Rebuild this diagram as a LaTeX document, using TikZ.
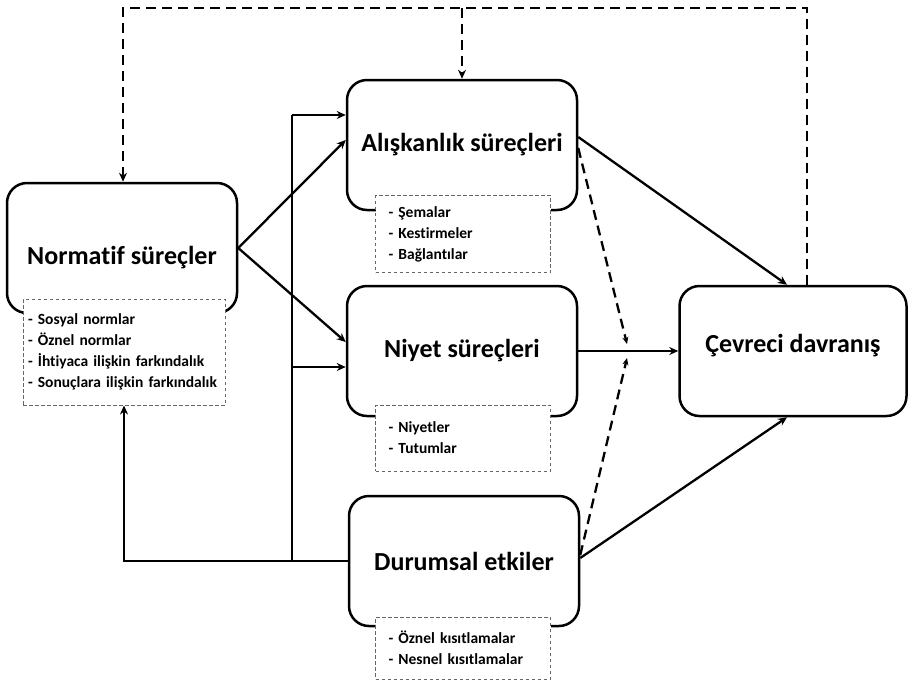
\documentclass[tikz,border=0pt]{standalone}
\usepackage{fontspec}
\setmainfont[Ligatures=NoCommon]{Carlito}
\usetikzlibrary{arrows.meta}
\usetikzlibrary{positioning}
\usetikzlibrary{calc}
\newcommand{\pnode}[3]{\node(#1)[proc] at (#2){#3}}

\begin{document}
\begin{tikzpicture}[
        x=1pt, y=-1pt,
        >={Stealth[length=9pt,width=8pt]},
        every node/.style={font=\bfseries},
        proc/.style={rectangle,minimum width=230pt,minimum height=130pt,
                     rounded corners=20pt,line width=2.5pt,draw=black,fill=white,
                     font=\fontsize{26}{30}\selectfont\bfseries},
        sublist/.style={rectangle,draw=black!60,dash pattern=on 3.5pt off 2.5pt,
                        line width=1pt,fill=white,align=left,
                        font=\fontsize{15.5}{21}\selectfont\bfseries},
        flow/.style={line width=2.3pt,->},
        back/.style={line width=2.3pt,dash pattern=on 10pt off 6pt}
      ]
      \useasboundingbox (0,0) rectangle (909,681);
      \pnode{norm}{122,248}{\raisebox{-10pt}[\height][\depth]{Normatif süreçler}};
      \pnode{habit}{462,145}{Alışkanlık süreçleri};
      \pnode{intent}{462,351}{Niyet süreçleri};
      \pnode{situ}{464,561}{Durumsal etkiler};
      \node(behav)[proc,minimum width=227pt] at (793,351){\raisebox{5pt}[\height][\depth]{Çevreci davranış}};
      \node(normlist)[sublist,minimum height=106pt,inner xsep=5pt,text width=192pt] at (124,352)
        {- Sosyal normlar\\- Öznel normlar\\- İhtiyaca ilişkin farkındalık\\- Sonuçlara ilişkin farkındalık};
      \node(habitlist)[sublist,minimum height=77pt,inner xsep=13pt,text width=149pt] at (463,234)
        {- Şemalar\\- Kestirmeler\\- Bağlantılar};
      \node(intentlist)[sublist,minimum height=66pt,inner xsep=13pt,text width=149pt] at (463,438)
        {- Niyetler\\- Tutumlar};
      \node(situlist)[sublist,minimum height=62pt,inner xsep=13pt,text width=149pt] at (463,648)
        {- Öznel kısıtlamalar\\- Nesnel kısıtlamalar};
      \coordinate (tt) at (292,115);
      \coordinate (tm) at (292,367);
      \coordinate (tb) at (292,561);
      \coordinate (meet) at (627,351);
      \coordinate (fbL) at (123,8);
      \coordinate (fbR) at (807,8);
      % solid paths
      \draw[flow] (norm.east) -- ([yshift=5pt]habit.west);
      \draw[flow] (norm.east) -- ([yshift=9pt]intent.west);
      \draw[line width=2.3pt] (tt) -- (tb);
      \draw[flow] (tt) -- (tt -| habit.west);
      \draw[flow] (tm) -- (tm -| intent.west);
      \draw[flow] (situ.west) -| (normlist.south);
      \draw[flow] ([yshift=8pt]habit.east) -- ([xshift=-6pt]behav.north);
      \draw[flow] (intent.east) -- (behav.west);
      \draw[flow] ([yshift=3pt]situ.east) -- ([xshift=-6pt]behav.south);
      % dashed feedback
      \draw[back,-{Stealth[length=7pt,width=6pt]}] ([yshift=-3pt]habit.east) -- ([yshift=7pt]meet);
      \draw[back,-{Stealth[length=7pt,width=6pt]}] ([yshift=6pt]situ.east) -- ([yshift=-7pt]meet);
      \draw[back,->] (behav.north -| fbR) -- (fbR) -- (fbL) -- (norm.north -| fbL);
      \draw[back,->] (habit.north |- fbR) -- (habit.north);
    \end{tikzpicture}
\end{document}
